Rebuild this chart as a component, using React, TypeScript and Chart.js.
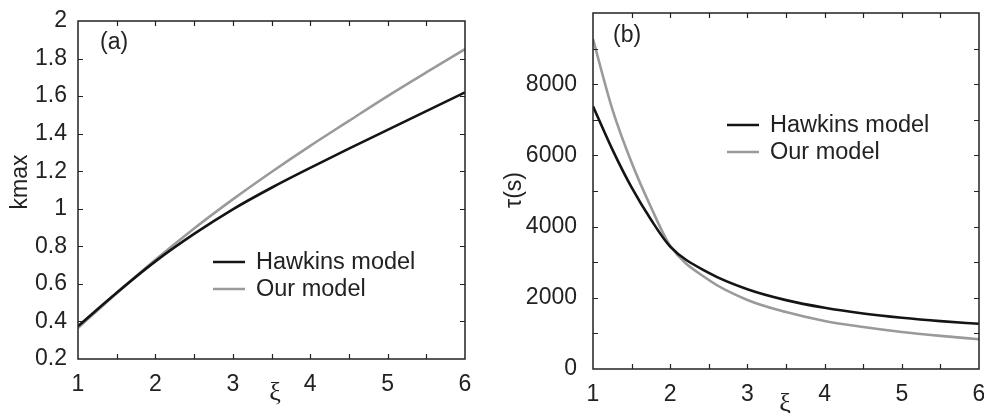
import React, { useEffect, useRef } from 'react';
import { Chart, registerables } from 'chart.js';

Chart.register(...registerables);

// ---- data ----
const XI_A = [1, 1.5, 2, 2.5, 3, 3.5, 4, 4.5, 5, 5.5, 6];
const HAWKINS_K = [0.375, 0.553, 0.72, 0.866, 0.997, 1.112, 1.218, 1.32, 1.42, 1.52, 1.62];
const OUR_K = [0.365, 0.55, 0.728, 0.895, 1.05, 1.196, 1.335, 1.468, 1.6, 1.726, 1.85];

const XI_B = [1, 1.25, 1.5, 1.75, 2, 2.5, 3, 3.5, 4, 4.5, 5, 5.5, 6];
const HAWKINS_TAU = [7380, 6170, 5100, 4200, 3440, 2700, 2240, 1935, 1720, 1560, 1440, 1345, 1270];
const OUR_TAU = [9270, 7300, 5800, 4550, 3460, 2500, 1940, 1600, 1350, 1180, 1040, 930, 835];

const X_TICK_LABELS = [1, 2, 3, 4, 5, 6];
const X_MARKS = [1.5, 2, 2.5, 3, 3.5, 4, 4.5, 5, 5.5];
const K_TICK_LABELS = [0.2, 0.4, 0.6, 0.8, 1, 1.2, 1.4, 1.6, 1.8, 2];
const K_MARKS = [0.4, 0.6, 0.8, 1, 1.2, 1.4, 1.6, 1.8];
const TAU_TICK_LABELS = [0, 2000, 4000, 6000, 8000];
const TAU_MARKS = [1000, 2000, 3000, 4000, 5000, 6000, 7000, 8000, 9000];

const SERIES_NAMES = ['Hawkins model', 'Our model'];
const SERIES_COLORS = ['#141414', '#9a9a9a'];

const FONT = "'Liberation Sans', Arial, Helvetica, sans-serif";
const TEXT = '#222';

type Deco = {
  panel: string;
  panelPos: [number, number];
  yTitle: string;
  yTitlePos: [number, number];
  xTitlePos: [number, number];
  legendPos: [number, number];
  legendGap: number;
  xMarks: number[];
  yMarks: number[];
};

function decoPlugin(d: Deco) {
  return {
    id: 'matlabDeco',
    afterDraw(chart: any) {
      const ctx = chart.ctx as CanvasRenderingContext2D;
      const a = chart.chartArea;
      const xs = chart.scales.x;
      const ys = chart.scales.y;
      ctx.save();
      // ticks (inward)
      ctx.strokeStyle = '#222';
      ctx.lineWidth = 1.2;
      const tl = 5;
      ctx.beginPath();
      d.xMarks.forEach((v) => {
        const px = Math.round(xs.getPixelForValue(v)) + 0.5;
        ctx.moveTo(px, a.bottom);
        ctx.lineTo(px, a.bottom - tl);
        ctx.moveTo(px, a.top);
        ctx.lineTo(px, a.top + tl);
      });
      d.yMarks.forEach((v) => {
        const py = Math.round(ys.getPixelForValue(v)) + 0.5;
        ctx.moveTo(a.left, py);
        ctx.lineTo(a.left + tl, py);
        ctx.moveTo(a.right, py);
        ctx.lineTo(a.right - tl, py);
      });
      ctx.stroke();
      // box
      ctx.lineWidth = 1.5;
      ctx.strokeRect(a.left, a.top, a.right - a.left, a.bottom - a.top);

      ctx.fillStyle = TEXT;
      // panel label
      ctx.font = `23px ${FONT}`;
      ctx.textAlign = 'left';
      ctx.textBaseline = 'middle';
      ctx.fillText(d.panel, d.panelPos[0], d.panelPos[1]);

      // y title
      ctx.save();
      ctx.translate(d.yTitlePos[0], d.yTitlePos[1]);
      ctx.rotate(-Math.PI / 2);
      ctx.textAlign = 'center';
      ctx.textBaseline = 'middle';
      ctx.font = `23px ${FONT}`;
      ctx.fillText(d.yTitle, 0, 0);
      ctx.restore();

      // x title
      ctx.font = `26px 'Liberation Serif', 'DejaVu Serif', serif`;
      ctx.textAlign = 'center';
      ctx.textBaseline = 'middle';
      ctx.fillText('ξ', d.xTitlePos[0], d.xTitlePos[1]);

      // legend
      ctx.font = `23.5px ${FONT}`;
      ctx.textAlign = 'left';
      ctx.textBaseline = 'middle';
      SERIES_NAMES.forEach((name, i) => {
        const y = d.legendPos[1] + i * d.legendGap;
        ctx.strokeStyle = SERIES_COLORS[i];
        ctx.lineWidth = 2.5;
        ctx.beginPath();
        ctx.moveTo(d.legendPos[0], y);
        ctx.lineTo(d.legendPos[0] + 32, y);
        ctx.stroke();
        ctx.fillText(name, d.legendPos[0] + 43, y + 1);
      });
      ctx.restore();
    },
  };
}

function makeConfig(opts: {
  xs: number[];
  series: number[][];
  yMin: number;
  yMax: number;
  yLabels: number[];
  yFmt: (v: number) => string;
  yWidth: number;
  yPad: number;
  xHeight: number;
  padding: { left: number; right: number; top: number; bottom: number };
  deco: Deco;
}): any {
  return {
    type: 'line',
    data: {
      datasets: opts.series.map((s, i) => ({
        label: SERIES_NAMES[i],
        data: opts.xs.map((x, j) => ({ x, y: s[j] })),
        borderColor: SERIES_COLORS[i],
        borderWidth: 2.6,
        pointRadius: 0,
        fill: false,
        cubicInterpolationMode: 'monotone',
      })),
    },
    options: {
      animation: false,
      responsive: false,
      devicePixelRatio: 1,
      layout: { padding: opts.padding },
      plugins: { legend: { display: false }, tooltip: { enabled: false } },
      scales: {
        x: {
          type: 'linear',
          min: 1,
          max: 6,
          grid: { display: false },
          border: { display: false },
          afterBuildTicks: (s: any) => {
            s.ticks = X_TICK_LABELS.map((v) => ({ value: v }));
          },
          ticks: {
            font: { family: FONT, size: 23 },
            color: TEXT,
            padding: 4,
            maxRotation: 0,
            autoSkip: false,
            callback: (v: number) => String(v),
          },
          afterFit: (s: any) => {
            s.height = opts.xHeight;
            s.paddingLeft = 0;
            s.paddingRight = 0;
          },
        },
        y: {
          type: 'linear',
          min: opts.yMin,
          max: opts.yMax,
          grid: { display: false },
          border: { display: false },
          afterBuildTicks: (s: any) => {
            s.ticks = opts.yLabels.map((v) => ({ value: v }));
          },
          ticks: {
            font: { family: FONT, size: 23 },
            color: TEXT,
            padding: opts.yPad,
            autoSkip: false,
            callback: (v: number) => opts.yFmt(v),
          },
          afterFit: (s: any) => {
            s.width = opts.yWidth;
            s.paddingTop = 0;
            s.paddingBottom = 0;
          },
        },
      },
    },
    plugins: [decoPlugin(opts.deco)],
  };
}

function Panel(props: { left: number; width: number; config: () => any }) {
  const ref = useRef<HTMLCanvasElement | null>(null);
  useEffect(() => {
    if (!ref.current) return;
    const chart = new Chart(ref.current, props.config());
    return () => chart.destroy();
  }, []);
  return (
    <canvas
      ref={ref}
      width={props.width}
      height={413}
      style={{ position: 'absolute', left: props.left, top: 0, width: props.width, height: 413 }}
    />
  );
}

export default function App() {
  const cfgA = () =>
    makeConfig({
      xs: XI_A,
      series: [HAWKINS_K, OUR_K],
      yMin: 0.2,
      yMax: 2,
      yLabels: K_TICK_LABELS,
      yFmt: (v) => String(Number(v.toFixed(1))),
      yWidth: 78,
      yPad: 3,
      xHeight: 413 - 359,
      padding: { left: 0, right: 490 - 465, top: 21, bottom: 0 },
      deco: {
        panel: '(a)',
        panelPos: [100, 43],
        yTitle: 'kmax',
        yTitlePos: [21, 182],
        xTitlePos: [275, 393],
        legendPos: [213, 262],
        legendGap: 27,
        xMarks: X_MARKS,
        yMarks: K_MARKS,
      },
    });
  const cfgB = () =>
    makeConfig({
      xs: XI_B,
      series: [HAWKINS_TAU, OUR_TAU],
      yMin: 0,
      yMax: 10000,
      yLabels: TAU_TICK_LABELS,
      yFmt: (v) => String(v),
      yWidth: 103,
      yPad: 8,
      xHeight: 413 - 369,
      padding: { left: 0, right: 500 - 489, top: 13, bottom: 0 },
      deco: {
        panel: '(b)',
        panelPos: [123, 36],
        yTitle: 'τ(s)',
        yTitlePos: [25, 190],
        xTitlePos: [295, 404],
        legendPos: [237, 125],
        legendGap: 27,
        xMarks: X_MARKS,
        yMarks: TAU_MARKS,
      },
    });
  return (
    <div
      style={{
        position: 'fixed',
        left: 0,
        top: 0,
        width: 984,
        height: 413,
        overflow: 'hidden',
        background: '#fff',
      }}
    >
      <Panel left={0} width={490} config={cfgA} />
      <Panel left={490} width={500} config={cfgB} />
    </div>
  );
}
